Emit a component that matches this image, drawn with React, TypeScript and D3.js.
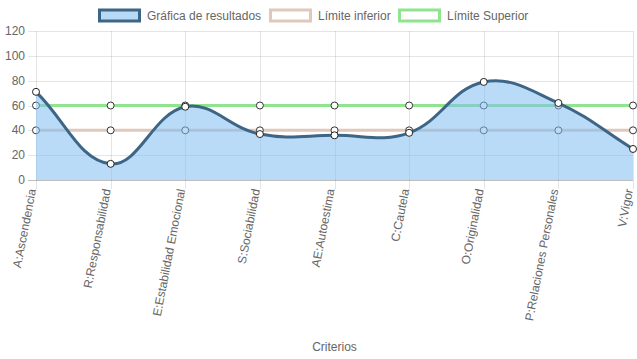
import React from "react";
import * as d3 from "d3";

const categories = [
  "A:Ascendencia",
  "R:Responsabilidad",
  "E:Estabilidad Emocional",
  "S:Sociabilidad",
  "AE:Autoestima",
  "C:Cautela",
  "O:Originalidad",
  "P:Relaciones Personales",
  "V:Vigor",
];
const resultados = [71, 13, 59, 37, 36, 38, 79, 62, 25];
const limiteInferior = [40, 40, 40, 40, 40, 40, 40, 40, 40];
const limiteSuperior = [60, 60, 60, 60, 60, 60, 60, 60, 60];
const yTicks = [0, 20, 40, 60, 80, 100, 120];
const legendLabels = ["Gráfica de resultados", "Límite inferior", "Límite Superior"];

const W = 637;
const H = 359;
const left = 36;
const right = 633;
const top = 31;
const bottom = 180;

type P = { x: number; y: number };

function splinePath(pts: P[], tension: number): string {
  const n = pts.length;
  const cps = pts.map((cur, i) => {
    const prev = i === 0 ? cur : pts[i - 1];
    const next = i === n - 1 ? cur : pts[i + 1];
    const d01 = Math.hypot(cur.x - prev.x, cur.y - prev.y);
    const d12 = Math.hypot(next.x - cur.x, next.y - cur.y);
    let s01 = d01 / (d01 + d12);
    let s12 = d12 / (d01 + d12);
    if (!isFinite(s01)) s01 = 0;
    if (!isFinite(s12)) s12 = 0;
    const fa = tension * s01;
    const fb = tension * s12;
    const cap = (v: number, lo: number, hi: number) => Math.max(lo, Math.min(hi, v));
    return {
      prev: {
        x: cap(cur.x - fa * (next.x - prev.x), left, right),
        y: cap(cur.y - fa * (next.y - prev.y), top, bottom),
      },
      next: {
        x: cap(cur.x + fb * (next.x - prev.x), left, right),
        y: cap(cur.y + fb * (next.y - prev.y), top, bottom),
      },
    };
  });
  let d = `M${pts[0].x},${pts[0].y}`;
  for (let i = 1; i < n; i++) {
    const a = cps[i - 1].next;
    const b = cps[i].prev;
    d += `C${a.x},${a.y},${b.x},${b.y},${pts[i].x},${pts[i].y}`;
  }
  return d;
}

export default function App() {
  const x = d3.scalePoint<string>().domain(categories).range([left, right]);
  const y = d3.scaleLinear().domain([0, 120]).range([bottom, top]);

  const toPts = (vals: number[]) => vals.map((v, i) => ({ x: x(categories[i])!, y: y(v) }));
  const resPts = toPts(resultados);
  const infPts = toPts(limiteInferior);
  const supPts = toPts(limiteSuperior);
  const resPath = splinePath(resPts, 0.4);
  const fillPath = resPath + `L${resPts[resPts.length - 1].x},${y(0)}L${resPts[0].x},${y(0)}Z`;

  const font = "Liberation Sans, Arial, Helvetica, sans-serif";
  const textColor = "#666";

  const legendItems = [
    { label: legendLabels[0], x: 99, fill: "#b9daf7", stroke: "#3d6585" },
    { label: legendLabels[1], x: 270, fill: "#ffffff", stroke: "#e0c8bd" },
    { label: legendLabels[2], x: 399, fill: "#ffffff", stroke: "#90e38f" },
  ];

  return (
    <svg width={W} height={H} style={{ position: "absolute", left: 0, top: 0 }} fontFamily={font}>
      {/* legend */}
      {legendItems.map((it) => (
        <g key={it.label}>
          <rect x={it.x + 0.5} y={10} width={40} height={11} fill={it.fill} stroke={it.stroke} strokeWidth={3} />
          <text x={it.x + 48} y={20} fontSize={12} fill={textColor}>
            {it.label}
          </text>
        </g>
      ))}

      {/* horizontal grid */}
      {yTicks.map((t) => (
        <g key={t}>
          <line
            x1={28}
            x2={right}
            y1={Math.round(y(t)) + 0.5}
            y2={Math.round(y(t)) + 0.5}
            stroke={t === 0 ? "rgba(0,0,0,0.25)" : "rgba(0,0,0,0.1)"}
            strokeWidth={1}
          />
          <text x={25} y={y(t) + 4} fontSize={12} fill={textColor} textAnchor="end">
            {t}
          </text>
        </g>
      ))}

      {/* vertical grid */}
      {categories.map((c) => (
        <line
          key={c}
          x1={Math.round(x(c)!) + 0.5}
          x2={Math.round(x(c)!) + 0.5}
          y1={top}
          y2={bottom + 9}
          stroke="rgba(0,0,0,0.1)"
          strokeWidth={1}
        />
      ))}

      {/* limit lines */}
      <path d={splinePath(infPts, 0.4)} fill="none" stroke="#e0c8bd" strokeWidth={3} />
      {infPts.map((p, i) => (
        <circle key={"i" + i} cx={p.x} cy={p.y} r={3.5} fill="#fff" stroke="#333" strokeWidth={1} />
      ))}
      <path d={splinePath(supPts, 0.4)} fill="none" stroke="#90e38f" strokeWidth={3} />
      {supPts.map((p, i) => (
        <circle key={"s" + i} cx={p.x} cy={p.y} r={3.5} fill="#fff" stroke="#333" strokeWidth={1} />
      ))}

      {/* results */}
      <path d={fillPath} fill="rgba(130,190,240,0.55)" stroke="none" />
      <path d={resPath} fill="none" stroke="#3d6585" strokeWidth={3} />
      {resPts.map((p, i) => (
        <circle key={"r" + i} cx={p.x} cy={p.y} r={3.5} fill="#fff" stroke="#222" strokeWidth={1} />
      ))}

      {/* x labels */}
      {categories.map((c) => (
        <text
          key={"l" + c}
          transform={`translate(${x(c)! - 4},${bottom + 9}) rotate(-79)`}
          fontSize={12}
          fill={textColor}
          textAnchor="end"
          dy="0.35em"
        >
          {c}
        </text>
      ))}

      <text x={(left + right) / 2} y={351} fontSize={12} fill={textColor} textAnchor="middle">
        Criterios
      </text>
    </svg>
  );
}
